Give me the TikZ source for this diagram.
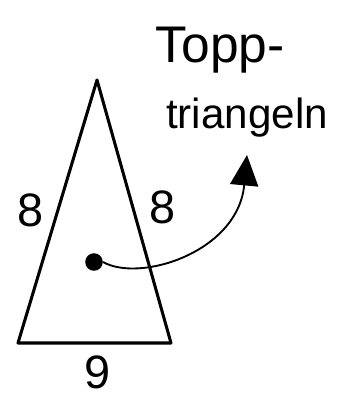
\documentclass[tikz,border=0pt]{standalone}
\usepackage{fontspec}
\setsansfont{Liberation Sans}
\usetikzlibrary{positioning,arrows.meta}

\begin{document}
\begin{tikzpicture}[
    x=0.03cm, y=-0.03cm,
    side/.style={line width=2.6pt, line join=round},
    lbl/.style={font=\sffamily\fontsize{40}{44}\selectfont, inner sep=0pt},
    note/.style={font=\sffamily\fontsize{36}{40}\selectfont, inner sep=0pt, align=left},
    conn/.style={line width=1.6pt, -{Triangle[length=26pt, width=24pt]}}
]
    \useasboundingbox (0,0) rectangle (350,406);

    \coordinate (apex) at (97,80);
    \coordinate (bl) at (18,343);
    \coordinate (br) at (171,343);
    \draw[side] (apex) -- (bl) -- (br) -- cycle;

    \node[lbl] (left) at (31,210) {8};
    \node[lbl] (right) at (163,207) {8};
    \node[lbl] (base) at (98,372) {9};

    \node[circle, fill, inner sep=0pt, minimum size=15pt] (dot) at (94,262) {};
    \node[note, font=\sffamily\fontsize{44}{48}\selectfont] (topp) at (220,50) {Topp-};
    \node[note] (tri) at (247,118) {triangeln};
    \coordinate (tip) at (247,155);

    \draw[conn] (dot.east) .. controls (140,283) and (238,252) .. (tip);
\end{tikzpicture}
\end{document}
